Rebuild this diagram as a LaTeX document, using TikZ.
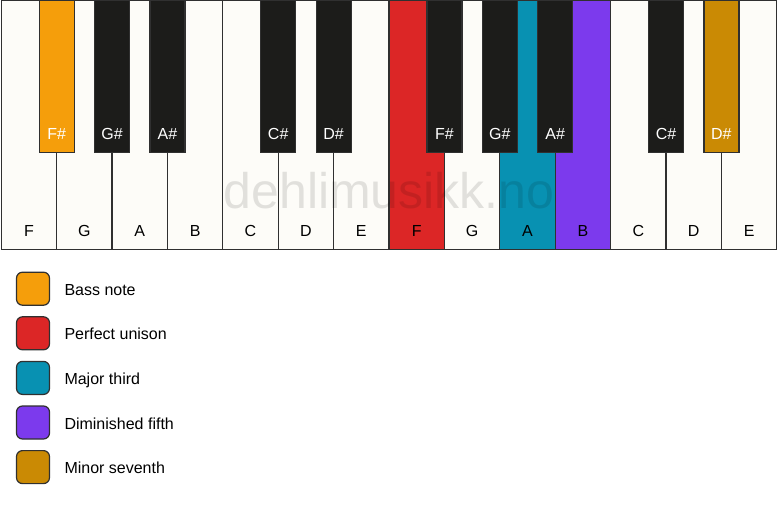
\documentclass[tikz,border=0pt]{standalone}
\usepackage{fontspec}
\setmainfont{Liberation Sans}
\usetikzlibrary{positioning}

\definecolor{keyivory}{HTML}{FDFCF8}
\definecolor{keyblack}{HTML}{1C1C1A}
\definecolor{keyedge}{HTML}{303030}
\definecolor{bassnote}{HTML}{F59E0B}
\definecolor{unison}{HTML}{DC2626}
\definecolor{majthird}{HTML}{0891B2}
\definecolor{dimfifth}{HTML}{7C3AED}
\definecolor{minseventh}{HTML}{CA8A04}

\tikzset{
	whitekey/.style={draw=keyedge, line width=1.2pt, fill=keyivory, minimum width=55.4pt, minimum height=249pt, inner sep=0pt, outer sep=0pt},
	blackkey/.style={draw=keyedge, line width=1.2pt, fill=keyblack, minimum width=35pt, minimum height=152pt, inner sep=0pt, outer sep=0pt},
	keyname/.style={anchor=base, inner sep=0pt, font=\fontsize{16}{19}\selectfont, text=black},
	sharpname/.style={anchor=base, inner sep=0pt, font=\fontsize{16}{19}\selectfont, text=white},
	legendbox/.style={draw=keyedge, line width=1.2pt, rounded corners=6pt, minimum size=33pt, inner sep=0pt},
	legendtext/.style={anchor=base west, inner sep=0pt, font=\fontsize{16}{19}\selectfont, text=black}
}

\begin{document}
\begin{tikzpicture}[x=1pt, y=-1pt]
			\useasboundingbox[fill=white] (0,0) rectangle (778,506);
			% white keys
			\node[whitekey] (F1) at (28.9,125.25) {};
			\node[whitekey] (G1) at (84.3,125.25) {};
			\node[whitekey] (A1) at (139.7,125.25) {};
			\node[whitekey] (B1) at (195.1,125.25) {};
			\node[whitekey] (C1) at (250.5,125.25) {};
			\node[whitekey] (D1) at (305.9,125.25) {};
			\node[whitekey] (E1) at (361.3,125.25) {};
			\node[whitekey, fill=unison] (F2) at (416.7,125.25) {};
			\node[whitekey] (G2) at (472.1,125.25) {};
			\node[whitekey, fill=majthird] (A2) at (527.5,125.25) {};
			\node[whitekey, fill=dimfifth] (B2) at (582.9,125.25) {};
			\node[whitekey] (C2) at (638.3,125.25) {};
			\node[whitekey] (D2) at (693.7,125.25) {};
			\node[whitekey] (E2) at (749.1,125.25) {};
			\node[keyname] (nF1) at (28.9,236) {F};
			\node[keyname] (nG1) at (84.3,236) {G};
			\node[keyname] (nA1) at (139.7,236) {A};
			\node[keyname] (nB1) at (195.1,236) {B};
			\node[keyname] (nC1) at (250.5,236) {C};
			\node[keyname] (nD1) at (305.9,236) {D};
			\node[keyname] (nE1) at (361.3,236) {E};
			\node[keyname] (nF2) at (416.7,236) {F};
			\node[keyname] (nG2) at (472.1,236) {G};
			\node[keyname] (nA2) at (527.5,236) {A};
			\node[keyname] (nB2) at (582.9,236) {B};
			\node[keyname] (nC2) at (638.3,236) {C};
			\node[keyname] (nD2) at (693.7,236) {D};
			\node[keyname] (nE2) at (749.1,236) {E};
			% watermark
			\node[anchor=base, inner sep=0pt, font=\fontsize{50}{60}\selectfont, text=black, text opacity=0.11] (mark) at (389,208) {dehlimusikk.no};
			% black keys
			\node[blackkey, fill=bassnote] (Fs1) at (56.6,76.75) {};
			\node[blackkey] (Gs1) at (112.0,76.75) {};
			\node[blackkey] (As1) at (167.4,76.75) {};
			\node[blackkey] (Cs1) at (278.2,76.75) {};
			\node[blackkey] (Ds1) at (333.6,76.75) {};
			\node[blackkey] (Fs2) at (444.4,76.75) {};
			\node[blackkey] (Gs2) at (499.8,76.75) {};
			\node[blackkey] (As2) at (555.2,76.75) {};
			\node[blackkey] (Cs2) at (666.0,76.75) {};
			\node[blackkey, fill=minseventh] (Ds2) at (721.4,76.75) {};
			\node[sharpname] (nFs1) at (56.6,139) {F\#};
			\node[sharpname] (nGs1) at (112.0,139) {G\#};
			\node[sharpname] (nAs1) at (167.4,139) {A\#};
			\node[sharpname] (nCs1) at (278.2,139) {C\#};
			\node[sharpname] (nDs1) at (333.6,139) {D\#};
			\node[sharpname] (nFs2) at (444.4,139) {F\#};
			\node[sharpname] (nGs2) at (499.8,139) {G\#};
			\node[sharpname] (nAs2) at (555.2,139) {A\#};
			\node[sharpname] (nCs2) at (666.0,139) {C\#};
			\node[sharpname] (nDs2) at (721.4,139) {D\#};
			% legend
			\node[legendbox, fill=bassnote] (Lbass) at (33,288.7) {};
			\node[legendtext] (Tbass) at (64.3,295.2) {Bass note};
			\node[legendbox, fill=unison] (Luni) at (33,333.3) {};
			\node[legendtext] (Tuni) at (64.3,339.8) {Perfect unison};
			\node[legendbox, fill=majthird] (Lthird) at (33,377.9) {};
			\node[legendtext] (Tthird) at (64.3,384.4) {Major third};
			\node[legendbox, fill=dimfifth] (Lfifth) at (33,422.5) {};
			\node[legendtext] (Tfifth) at (64.3,429.0) {Diminished fifth};
			\node[legendbox, fill=minseventh] (Lsev) at (33,467.1) {};
			\node[legendtext] (Tsev) at (64.3,473.6) {Minor seventh};
		\end{tikzpicture}
\end{document}
